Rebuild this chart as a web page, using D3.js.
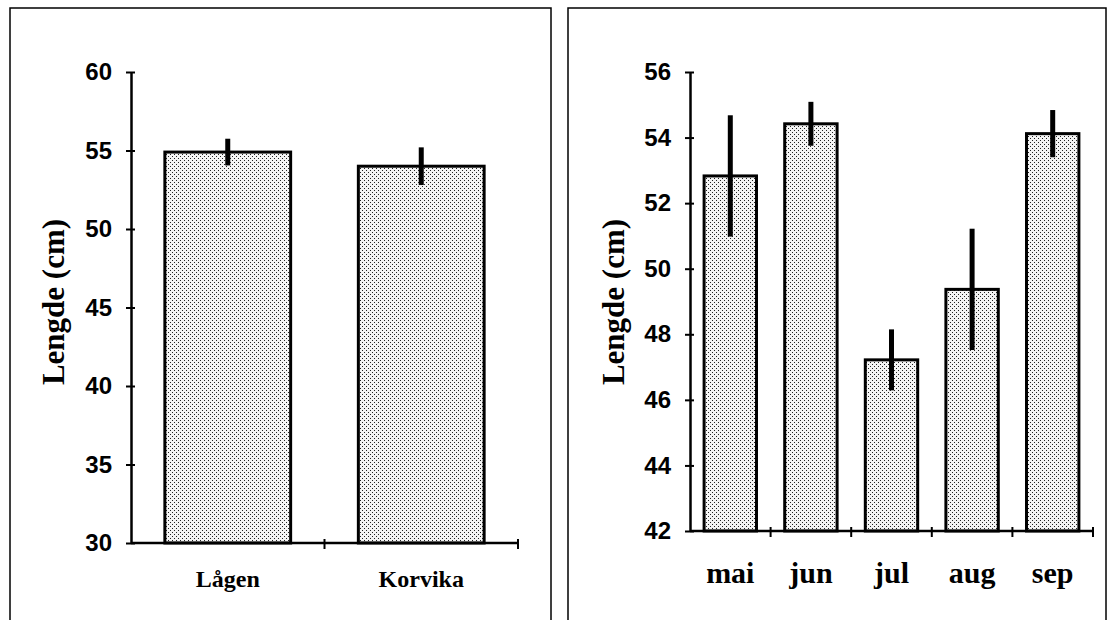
<!DOCTYPE html>
<html>
<head>
<meta charset="utf-8">
<script src="https://cdn.jsdelivr.net/npm/d3@7"></script>
<style>
  body { margin: 0; background: #fff; }
  svg { display: block; }
</style>
</head>
<body>
<div id="chart"></div>
<script>
// left panel: site comparison
const sites = ['Lågen', 'Korvika'];
const siteMeans = [54.9, 54.0];
const siteErr = [0.85, 1.2];
const siteTicks = [30, 35, 40, 45, 50, 55, 60];

// right panel: monthly
const months = ['mai', 'jun', 'jul', 'aug', 'sep'];
const monthMeans = [52.83, 54.42, 47.22, 49.37, 54.12];
const monthErr = [1.85, 0.67, 0.93, 1.85, 0.72];
const monthTicks = [42, 44, 46, 48, 50, 52, 54, 56];

const W = 1114, H = 620;

const svg = d3.select('#chart')
    .append('svg')
    .attr('width', W)
    .attr('height', H);

// dotted fill like the original
const pat = svg.append('defs')
    .append('pattern')
    .attr('id', 'dots')
    .attr('patternUnits', 'userSpaceOnUse')
    .attr('width', 4)
    .attr('height', 4);
pat.append('rect').attr('width', 4).attr('height', 4).attr('fill', '#f4f4f4');
pat.append('rect').attr('x', 0).attr('y', 0).attr('width', 1).attr('height', 1).attr('fill', '#222');
pat.append('rect').attr('x', 2).attr('y', 2).attr('width', 1).attr('height', 1).attr('fill', '#222');

const drawPanel = (cfg) => {
    const g = svg.append('g');

    // panel frame (bottom edge runs off the page)
    g.append('rect')
        .attr('x', cfg.frame[0])
        .attr('y', 8)
        .attr('width', cfg.frame[1] - cfg.frame[0])
        .attr('height', H + 20)
        .attr('fill', 'none')
        .attr('stroke', '#000')
        .attr('stroke-width', 1.5);

    const x = d3.scaleBand()
        .domain(cfg.cats)
        .range(cfg.xRange)
        .paddingInner(0.35)
        .paddingOuter(0.175);

    const y = d3.scaleLinear()
        .domain(cfg.yDomain)
        .range(cfg.yRange);

    const data = cfg.cats.map((c, i) => ({ cat: c, mean: cfg.means[i], err: cfg.errs[i] }));

    // bars
    g.selectAll('.bar')
        .data(data)
        .enter()
        .append('rect')
        .attr('class', 'bar')
        .attr('x', d => x(d.cat))
        .attr('y', d => y(d.mean))
        .attr('width', x.bandwidth())
        .attr('height', d => y(cfg.yDomain[0]) - y(d.mean))
        .attr('fill', 'url(#dots)')
        .attr('stroke', '#000')
        .attr('stroke-width', 3);

    // error bars
    g.selectAll('.err')
        .data(data)
        .enter()
        .append('line')
        .attr('class', 'err')
        .attr('x1', d => x(d.cat) + x.bandwidth() / 2)
        .attr('x2', d => x(d.cat) + x.bandwidth() / 2)
        .attr('y1', d => y(d.mean + d.err))
        .attr('y2', d => y(d.mean - d.err))
        .attr('stroke', '#000')
        .attr('stroke-width', 5);

    // y axis
    const yAxis = g.append('g')
        .attr('transform', `translate(${cfg.xRange[0]},0)`)
        .call(d3.axisLeft(y).tickValues(cfg.ticks).tickSize(4).tickSizeOuter(0).tickPadding(15));
    yAxis.select('.domain').attr('stroke-width', 2.5);
    yAxis.selectAll('.tick line').attr('x2', 4).attr('x1', -5).attr('stroke-width', 2);
    yAxis.selectAll('.tick text')
        .attr('font-family', '"Liberation Sans", Arial, sans-serif')
        .attr('font-weight', 'bold')
        .attr('font-size', 24)
        .attr('fill', '#000');

    // x axis: ticks on band boundaries, labels at band centres
    const xAxis = g.append('g')
        .attr('transform', `translate(0,${cfg.yRange[0]})`);
    xAxis.append('line')
        .attr('x1', cfg.xRange[0])
        .attr('x2', cfg.xRange[1])
        .attr('stroke', '#000')
        .attr('stroke-width', 2.5);
    const bounds = cfg.cats.map(c => x(c) - x.step() * x.paddingInner() / 2).slice(1).concat([cfg.xRange[1]]);
    xAxis.selectAll('.xtick')
        .data(bounds)
        .enter()
        .append('line')
        .attr('x1', d => d)
        .attr('x2', d => d)
        .attr('y1', -4)
        .attr('y2', 6)
        .attr('stroke', '#000')
        .attr('stroke-width', 2);
    xAxis.selectAll('.xlab')
        .data(cfg.cats)
        .enter()
        .append('text')
        .attr('x', d => x(d) + x.bandwidth() / 2)
        .attr('y', cfg.labelDy)
        .attr('text-anchor', 'middle')
        .attr('font-family', '"Liberation Serif", "Times New Roman", serif')
        .attr('font-weight', 'bold')
        .attr('font-size', cfg.labelSize)
        .text(d => d);

    // y title
    g.append('text')
        .attr('transform', `translate(${cfg.titleX},302) rotate(-90)`)
        .attr('text-anchor', 'middle')
        .attr('font-family', '"Liberation Serif", "Times New Roman", serif')
        .attr('font-weight', 'bold')
        .attr('font-size', 31)
        .text('Lengde (cm)');
};

drawPanel({
    frame: [10, 551],
    cats: sites, means: siteMeans, errs: siteErr, ticks: siteTicks,
    xRange: [131, 518], yRange: [543, 72], yDomain: [30, 60],
    labelDy: 44, labelSize: 24, titleX: 64
});

drawPanel({
    frame: [568, 1106],
    cats: months, means: monthMeans, errs: monthErr, ticks: monthTicks,
    xRange: [690, 1093], yRange: [531, 72], yDomain: [42, 56],
    labelDy: 52, labelSize: 30, titleX: 624
});
</script>
</body>
</html>
